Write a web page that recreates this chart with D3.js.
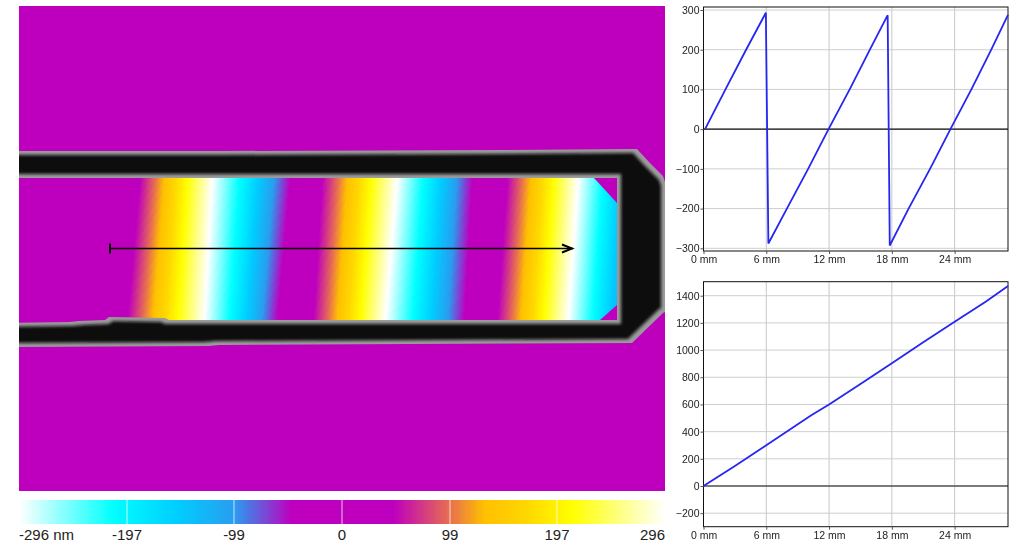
<!DOCTYPE html>
<html><head><meta charset="utf-8"><script src="https://cdn.jsdelivr.net/npm/d3@7"></script>
<style>html,body{margin:0;background:#fff}svg{display:block}text{font-family:"Liberation Sans",Arial,sans-serif}
.soft{filter:blur(.55px)}.soft text{fill:#222;font-size:10.5px}.soft .domain{stroke:#222}.soft .tick line{stroke:#555}</style></head>
<body><svg id="c" width="1015" height="544"></svg>
<script>
// colour key
const keyValues=[-296,-210,-150,-99,-47,0,47,99,130,170,210,296];
const keyColors=["#ffffff","#00ffff","#00ccff","#2a9cf0","#be00be","#be00be","#be00be","#e8704f","#ffc000","#ffd800","#ffff00","#ffffff"];
const keyTicks=[-197,-99,0,99,197];
const keyLabels=["-296 nm","-197","-99","0","99","197","296"];
const keyLabelValues=[-296,-197,-99,0,99,197,296];
// unwrapped phase (nm) and where it falls along the top and bottom of the channel (sensor px)
const phaseKnots=[0,47,296,542,639,888,1134,1231,1480];
const phaseTopX=[107,121,193,270,303,378,452,488,559];
const phaseBottomX=[93,108,185,257,294,366,444,478,549];
// wall outline (sensor px)
const wallOuterX=[-20,200,480,613,618,630,644,646,646,644,613,200,190,-20];
const wallOuterY=[145,145,144,143,143,156,170,176,306,307,337,339,340,341];
const wallInnerX=[-20,598,598,150,146,90,86,60,50,-20];
const wallInnerY=[172,172,314,314,312,311,314,315,316,317];
const cornerTopX=[575,598,598],cornerTopY=[172,172,197];
const cornerBotX=[581,598,598],cornerBotY=[314,314,299];
// profile arrow (mm)
const arrowMm=[0,29];
// wrapped profile
const wrapX=[0.15,2.1,4.07,5.96,6.2,7.97,10,11.95,13.97,15.9,17.6,17.8,19.6,21.65,23.6,25.6,27.5,29.1];
const wrapY=[0,100,200,293,-288,-200,-100,0,100,200,287,-293,-200,-100,0,100,200,288];
// unwrapped profile
const unwrapX=[0,3,6,10.3,12,15,18,21,24,27,29.1];
const unwrapY=[0,148,300,520,600,750,903,1058,1208,1358,1472];
const xTicks=[0,6,12,18,24];
const wrapTicks=[-300,-200,-100,0,100,200,300];
const unwrapTicks=[-200,0,200,400,600,800,1000,1200,1400];

const svg=d3.select("#c");
const sx=d3.scaleLinear([0,646],[19,665]), sy=d3.scaleLinear([0,485],[6,491]);
const mm=d3.scaleLinear([0,29],[91,554]);
const colour=d3.scaleLinear().domain(keyValues).range(keyColors).interpolate(d3.interpolateRgb).clamp(true);
const wrap=u=>{const v=((u+296)%592+592)%592-296;return v};
const defs=svg.append("defs");
defs.append("clipPath").attr("id","img").append("rect").attr("x",sx(0)).attr("y",sy(0)).attr("width",sx(646)-sx(0)).attr("height",sy(485)-sy(0));
const f=defs.append("filter").attr("id","core").attr("x","-5%").attr("y","-5%").attr("width","110%").attr("height","110%").attr("filterUnits","objectBoundingBox");
f.append("feMorphology").attr("operator","erode").attr("radius",3.5);
f.append("feGaussianBlur").attr("stdDeviation",1.7);

const img=svg.append("g").attr("clip-path","url(#img)");
img.append("rect").attr("x",sx(0)).attr("y",sy(0)).attr("width",646).attr("height",485).attr("fill","#be00be");
// fringes: each iso-phase sliver painted from its contour to the right end
const topS=d3.scaleLinear(phaseKnots,phaseTopX), botS=d3.scaleLinear(phaseKnots,phaseBottomX);
const innerTop=172, innerBot=314, innerRight=598;
const fr=img.append("g");
fr.selectAll("polygon").data(d3.range(0,1800,3)).join("polygon")
 .attr("fill",u=>colour(wrap(u)))
 .attr("shape-rendering","crispEdges")
 .attr("points",u=>[[topS(u),innerTop],[innerRight,innerTop],[innerRight,innerBot],[botS(u),innerBot]].map(p=>[sx(p[0]),sy(p[1])].join(",")).join(" "));
const corner=(xs,ys)=>xs.map((x,i)=>[sx(x),sy(ys[i])].join(",")).join(" ");
img.append("polygon").attr("points",corner(cornerTopX,cornerTopY)).attr("fill","#be00be");
img.append("polygon").attr("points",corner(cornerBotX,cornerBotY)).attr("fill","#be00be");
// wall
const pathOf=(xs,ys)=>"M"+xs.map((x,i)=>[sx(x),sy(ys[i])].join(",")).join("L")+"Z";
const wall=pathOf(wallOuterX,wallOuterY)+pathOf(wallInnerX,wallInnerY);
img.append("path").attr("d",wall).attr("fill-rule","evenodd").attr("fill","#9a9a9a");
img.append("path").attr("d",wall).attr("fill-rule","evenodd").attr("fill","#0c0c0c").attr("filter","url(#core)");
// arrow
const ay=sy(242.5);
const arrow=svg.append("g").attr("stroke","#000").attr("fill","none");
arrow.append("line").attr("x1",sx(mm(arrowMm[0]))).attr("x2",sx(mm(arrowMm[1]))).attr("y1",ay).attr("y2",ay).attr("stroke-width",1.6);
arrow.append("line").attr("x1",sx(mm(arrowMm[0]))).attr("x2",sx(mm(arrowMm[0]))).attr("y1",ay-5).attr("y2",ay+5).attr("stroke-width",2);
const ax=sx(mm(arrowMm[1]));
arrow.append("polyline").attr("points",`${ax-11},${ay-4} ${ax-1},${ay} ${ax-11},${ay+4}`).attr("stroke-width",2);

// colour bar
const kx=d3.scaleLinear([-296,296],[19,665]);
const bar=svg.append("g");
bar.selectAll("rect.k").data(d3.range(-296,296,1)).join("rect").attr("class","k").attr("shape-rendering","crispEdges")
 .attr("x",d=>kx(d)).attr("width",2).attr("y",500).attr("height",24).attr("fill",d=>colour(d));
bar.selectAll("line").data(keyTicks).join("line").attr("x1",kx).attr("x2",kx).attr("y1",500).attr("y2",524).attr("stroke","#fff").attr("stroke-opacity",.75);
bar.selectAll("text").data(keyLabelValues).join("text").attr("x",kx).attr("y",540).attr("font-size",15).attr("fill","#222")
 .attr("text-anchor",(d,i)=>i==0?"start":i==6?"end":"middle").text((d,i)=>keyLabels[i]);

// charts
function chart(top,bottom,yDomain,yRange,ticks,xs,ys){
 const g=svg.append("g").attr("class","soft");
 const x=d3.scaleLinear([0,29.1],[703.5,1008]);
 const y=d3.scaleLinear(yDomain,yRange);
 g.append("g").selectAll("line").data(xTicks.slice(1)).join("line").attr("x1",x).attr("x2",x).attr("y1",top).attr("y2",bottom).attr("stroke","#c8c8c8");
 g.append("g").selectAll("line").data(ticks).join("line").attr("x1",703.5).attr("x2",1008).attr("y1",y).attr("y2",y).attr("stroke","#cfcfcf");
 g.append("line").attr("x1",703.5).attr("x2",1008).attr("y1",y(0)).attr("y2",y(0)).attr("stroke","#111").attr("stroke-width",1.2);
 g.append("rect").attr("x",703.5).attr("y",top).attr("width",304.5).attr("height",bottom-top).attr("fill","none").attr("stroke","#111");
 g.append("g").attr("transform",`translate(703.5,0)`).call(d3.axisLeft(y).tickValues(ticks).tickSize(3).tickPadding(1).tickFormat(d3.format("d"))).call(s=>s.select(".domain").remove());
 g.append("g").attr("transform",`translate(0,${bottom})`).call(d3.axisBottom(x).tickValues(xTicks).tickSize(3).tickPadding(2).tickFormat(d=>d+" mm")).call(s=>s.select(".domain").remove());
 g.selectAll("text").attr("font-family",null);
 g.append("path").attr("d",d3.line().x(d=>x(d[0])).y(d=>y(d[1]))(xs.map((v,i)=>[v,ys[i]]))).attr("fill","none").attr("stroke","#2626f2").attr("stroke-width",1.8);
}
chart(7,251,[-300,300],[248.3,10],wrapTicks,wrapX,wrapY);
chart(281.7,526.7,[0,1400],[486,295.7],unwrapTicks,unwrapX,unwrapY);
</script></body></html>
